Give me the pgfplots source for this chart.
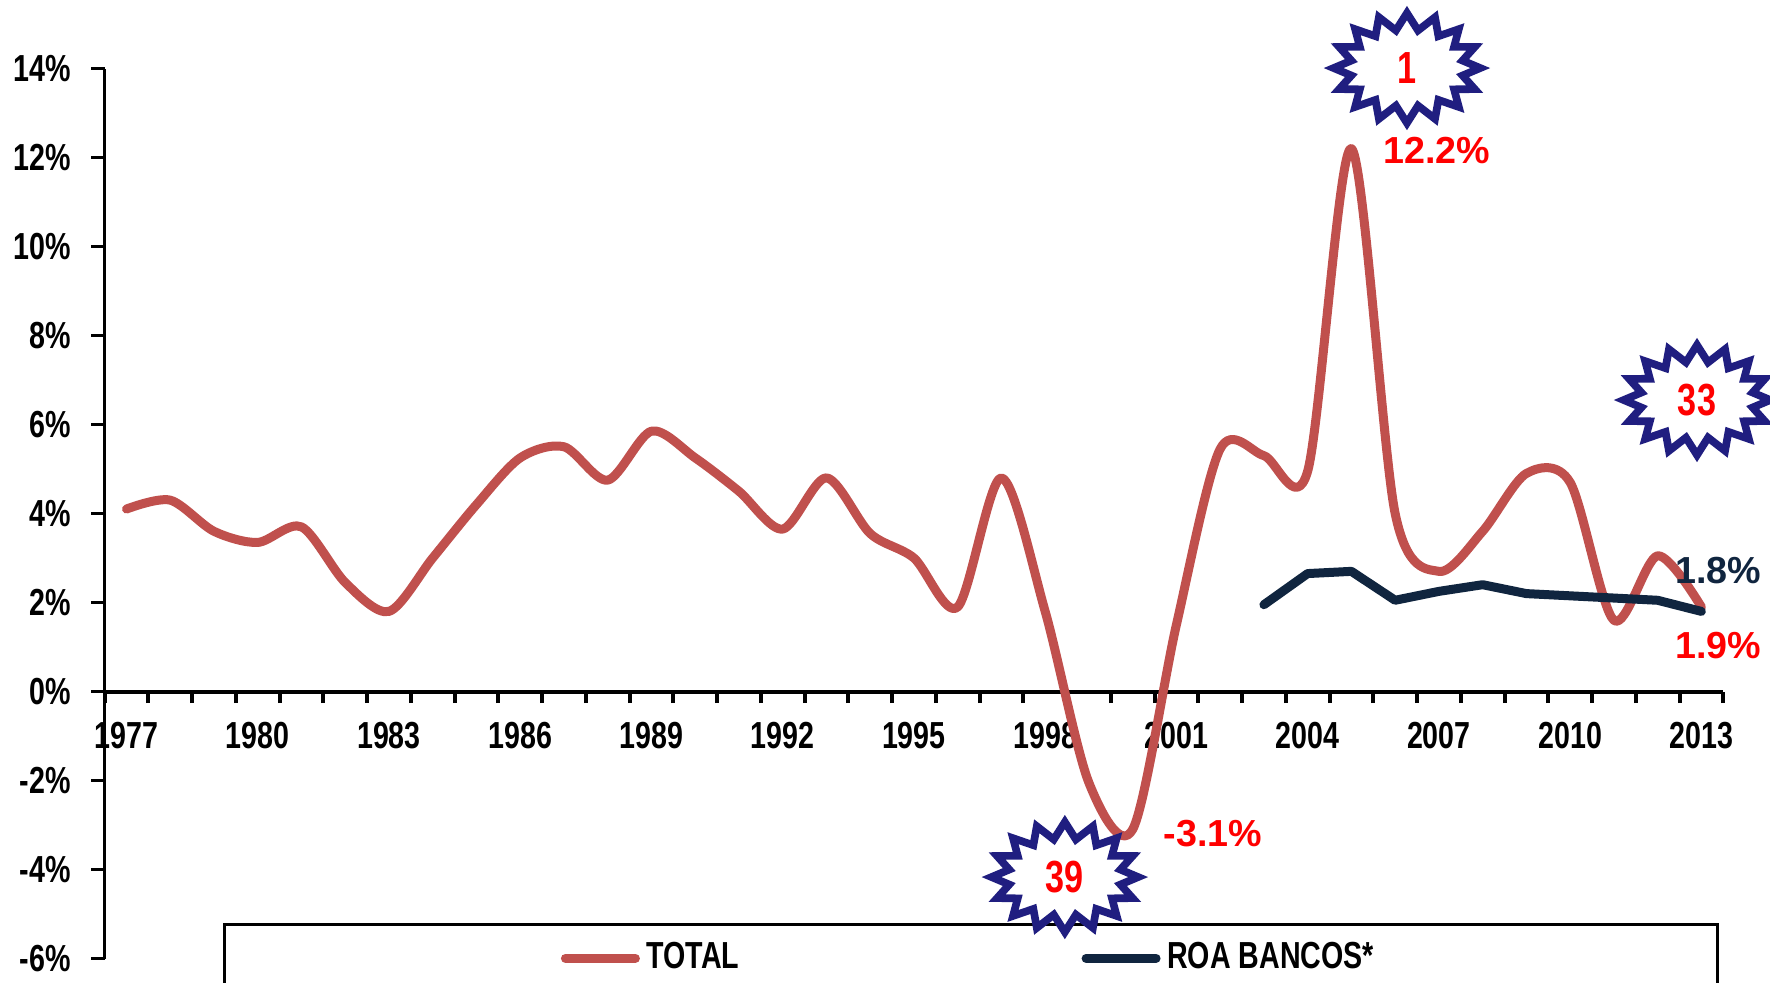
\documentclass[border=0pt]{standalone}
\usepackage{pgfplots}
\pgfplotsset{compat=1.18}
\usepackage{pgfplotstable}
\usepackage{fontspec}
\setmainfont{Liberation Sans}
\newfontfamily\narrowfont{Liberation Sans}[FakeStretch=0.76]
\usetikzlibrary{shapes.symbols}

\definecolor{totalred}{RGB}{192,80,77}
\definecolor{roanavy}{RGB}{16,37,63}
\definecolor{burstblue}{RGB}{32,30,128}
\definecolor{labelred}{RGB}{255,0,0}

\newcommand{\nb}{\fontsize{11.3}{13}\selectfont\narrowfont\bfseries}
\newcommand{\wb}{\fontsize{11.3}{13}\selectfont\bfseries}

% rentabilidad total por año
\pgfplotstableread{
year total
1977 4.1
1978 4.3
1979 3.6
1980 3.35
1981 3.7
1982 2.45
1983 1.8
1984 3.0
1985 4.2
1986 5.25
1987 5.5
1988 4.75
1989 5.85
1990 5.25
1991 4.5
1992 3.65
1993 4.8
1994 3.55
1995 3.0
1996 1.9
1997 4.8
1998 1.8
1999 -2.05
2000 -3.1
2001 1.5
2002 5.45
2003 5.3
2004 4.95
2005 12.2
2006 4.0
2007 2.7
2008 3.6
2009 4.9
2010 4.7
2011 1.6
2012 3.05
2013 1.9
}\totaltable

% ROA bancos
\pgfplotstableread{
year roa
2003 1.95
2004 2.65
2005 2.7
2006 2.05
2007 2.25
2008 2.4
2009 2.2
2010 2.15
2011 2.1
2012 2.05
2013 1.8
}\roatable

\begin{document}
\begin{tikzpicture}[
  burst/.style={starburst, starburst points=16, starburst point height=5pt,
    random starburst=0, draw=burstblue, line width=2.3pt, fill=white,
    minimum width=44pt, minimum height=33pt, inner sep=0pt,
    text=labelred, font=\fontsize{13.5}{15}\selectfont\narrowfont\bfseries}]
\begin{axis}[
  at={(0,0)}, anchor=south west,
  scale only axis, width=485.6pt, height=267pt,
  xmin=1976.5, xmax=2013.5, ymin=-6, ymax=14,
  axis y line=left, axis x line=middle,
  axis line style={-},
  x axis line style={line width=1.2pt},
  y axis line style={line width=0.8pt},
  hide obscured x ticks=false, hide obscured y ticks=false,
  tick align=outside,
  xtick={1977,1980,...,2013},
  xticklabels={1977,1980,1983,1986,1989,1992,1995,1998,2001,2004,2007,2010,2013},
  major x tick style={draw=none},
  minor xtick={1976.5,1977.5,...,2013.5},
  minor x tick style={line width=1.2pt, black},
  minor tick length=3.5pt,
  ytick={-6,-4,...,14},
  yticklabels={-6\%,-4\%,-2\%,0\%,2\%,4\%,6\%,8\%,10\%,12\%,14\%},
  y tick style={line width=0.8pt, black},
  major tick length=4pt,
  tick label style={font=\nb},
  yticklabel style={xshift=-2.7pt},
  xticklabel style={yshift=-1.7pt},
  clip=false,
  legend columns=2,
  legend style={at={(0.0731,0.0399)}, anchor=north west, draw=black,
    line width=0.8pt, fill=white, inner xsep=101pt, inner ysep=3.5pt, font=\nb},
  legend image code/.code={\draw[#1, line cap=round] (0pt,0pt) -- (21pt,0pt);},
]
\addplot[totalred, line width=2.7pt, smooth, line cap=round, line join=round]
  table[x=year, y=total] {\totaltable};
\addlegendentry{\makebox[128.5pt][l]{TOTAL}}
\addplot[roanavy, line width=2.7pt, line cap=round, line join=round]
  table[x=year, y=roa] {\roatable};
\addlegendentry{ROA BANCOS*}

\node[text=labelred, font=\wb] at (axis cs:2006.95,12.15) {12.2\%};
\node[text=labelred, font=\wb] at (axis cs:2001.83,-3.2) {-3.1\%};
\node[text=roanavy, font=\wb] at (axis cs:2013.38,2.71) {1.8\%};
\node[text=labelred, font=\wb] at (axis cs:2013.38,1.04) {1.9\%};

\coordinate (b1) at (axis cs:2006.27,14.01);
\coordinate (b39) at (axis cs:1998.45,-4.17);
\coordinate (b33) at (axis cs:2012.9,6.55);
\end{axis}
\node[burst] at (b1) {1};
\node[burst] at (b39) {39};
\node[burst] at (b33) {33};
\pgfresetboundingbox
\path[use as bounding box] (-31.38pt,-7.35pt) rectangle (499.62pt,287.55pt);
\end{tikzpicture}
\end{document}
